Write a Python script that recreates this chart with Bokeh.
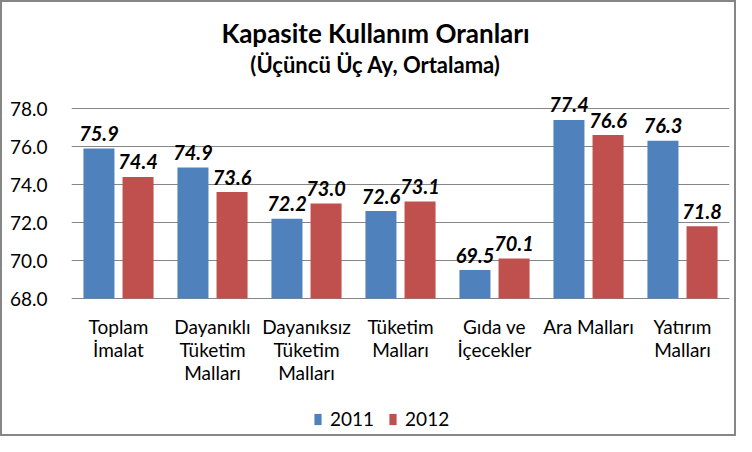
import numpy as np
from bokeh.plotting import figure
from bokeh.models import (ColumnDataSource, Range1d, FixedTicker, Label, Legend,
                          LegendItem)
from bokeh.core.properties import value
from bokeh.embed import file_html
from bokeh.resources import INLINE

# ---- data ----
categories = ["Toplam\nİmalat", "Dayanıklı\nTüketim\nMalları", "Dayanıksız\nTüketim\nMalları",
              "Tüketim\nMalları", "Gıda ve\nİçecekler", "Ara Malları", "Yatırım\nMalları"]
values_2011 = [75.9, 74.9, 72.2, 72.6, 69.5, 77.4, 76.3]
values_2012 = [74.4, 73.6, 73.0, 73.1, 70.1, 76.6, 71.8]
series_names = ["2011", "2012"]
y_ticks = [68, 70, 72, 74, 76, 78]
title_text = "Kapasite Kullanım Oranları"
subtitle_text = "(Üçüncü Üç Ay, Ortalama)"

FONT = "Lato"
BLUE = "#4F81BD"
RED = "#C0504D"
GRID = "#868686"

n = len(categories)
centers = np.arange(n) + 0.5
shift = 0.208
bw = 0.33
base = y_ticks[0]

src = ColumnDataSource(dict(
    x1=centers - shift, x2=centers + shift,
    v1=values_2011, v2=values_2012,
    t1=["%.1f" % v for v in values_2011],
    t2=["%.1f" % v for v in values_2012],
))
cat_src = ColumnDataSource(dict(x=centers, y=[base] * n, text=categories))

# The frame covers the whole canvas height (invisible beyond the gridlines),
# so titles, category labels and legend are drawn inside it without clipping.
H = 436
px_per_unit = 19.0
base_px = 296  # canvas y of the 68.0 line
y_top = base + base_px / px_per_unit
y_bot = base - (H - base_px) / px_per_unit

p = figure(width=736, height=H, output_backend="svg", toolbar_location=None,
           x_range=Range1d(0, n), y_range=Range1d(y_bot, y_top),
           min_border_left=69, min_border_right=9, min_border_top=0,
           min_border_bottom=0)
p.styles = {"border": "2px solid #868686"}
p.outline_line_color = None
p.background_fill_color = "white"
p.border_fill_color = "white"
p.xaxis.visible = False

r1 = p.vbar(x="x1", top="v1", bottom=base, width=bw, source=src,
            fill_color=BLUE, line_color=None)
r2 = p.vbar(x="x2", top="v2", bottom=base, width=bw, source=src,
            fill_color=RED, line_color=None)

for xcol, tcol, vcol in (("x1", "t1", "v1"), ("x2", "t2", "v2")):
    p.text(x=xcol, y=vcol, text=tcol, source=src, y_offset=-15,
           text_align="center", text_baseline="alphabetic",
           text_font=value(FONT), text_font_style="bold italic",
           text_font_size="20px", text_color="black")

# category labels under the base line
p.text(x="x", y="y", text="text", source=cat_src, y_offset=16,
       text_align="center", text_baseline="top", text_line_height=1.0,
       text_font=value(FONT), text_font_size="19px", text_color="black")

p.yaxis.ticker = FixedTicker(ticks=y_ticks)
p.yaxis.major_label_overrides = {t: "%.1f" % t for t in y_ticks}
p.yaxis.major_label_text_font = FONT
p.yaxis.major_label_text_font_size = "19px"
p.yaxis.major_label_text_color = "black"
p.yaxis.major_label_standoff = 18
p.yaxis.axis_line_color = None
p.yaxis.major_tick_line_color = None
p.yaxis.minor_tick_line_color = None

p.xgrid.grid_line_color = None
p.ygrid.grid_line_color = GRID
p.ygrid.grid_line_width = 1

# titles
p.add_layout(Label(x=3.234, y=81.95, text=title_text, text_align="center",
                   text_baseline="alphabetic", text_font=FONT,
                   text_font_style="bold", text_font_size="26px", text_color="black"))
p.add_layout(Label(x=3.234, y=80.33, text=subtitle_text, text_align="center",
                   text_baseline="alphabetic", text_font=FONT,
                   text_font_style="bold", text_font_size="22px", text_color="black"))

legend = Legend(items=[LegendItem(label=series_names[0], renderers=[r1]),
                       LegendItem(label=series_names[1], renderers=[r2])],
                orientation="horizontal", location=(242, 8),
                padding=0, margin=0, border_line_color=None,
                background_fill_alpha=0, glyph_width=9, glyph_height=14,
                label_standoff=8, spacing=14,
                label_text_font=FONT, label_text_font_size="19px",
                label_text_color="black")
p.add_layout(legend, "center")

open("out.html", "w").write(file_html(p, INLINE))
